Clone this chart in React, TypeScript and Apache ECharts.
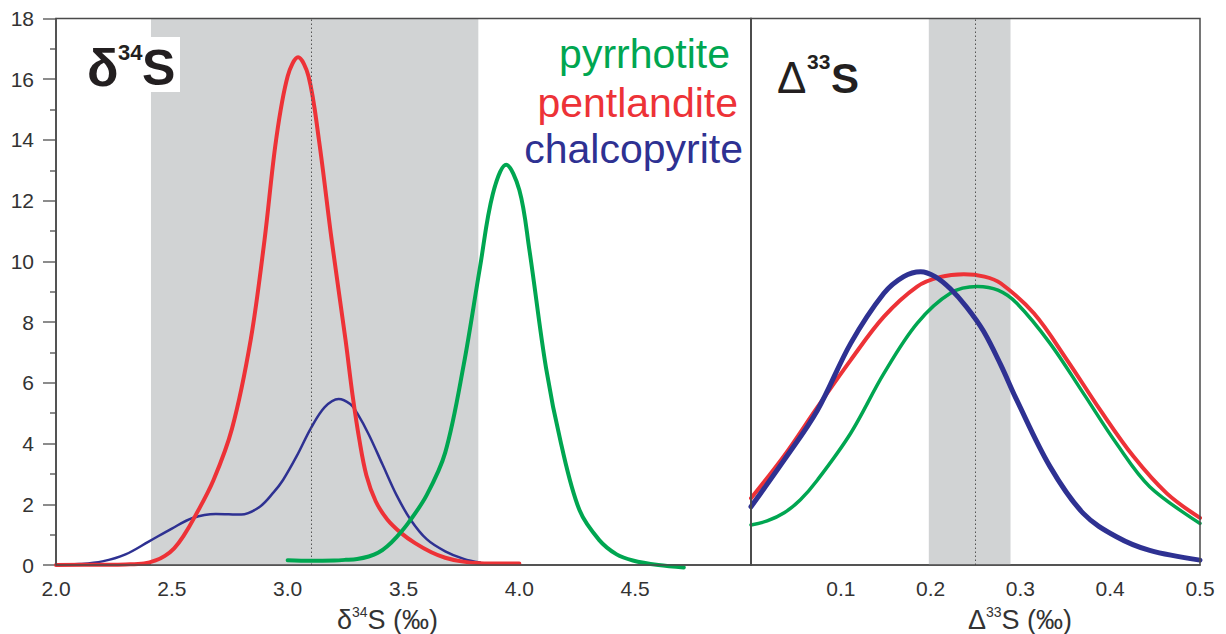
import React, { useEffect, useRef } from 'react';
import * as echarts from 'echarts';

const FONT = '"Liberation Sans", Arial, Helvetica, sans-serif';
const RED = '#ed3237';
const GREEN = '#00a651';
const BLUE = '#2e3192';
const BAND = '#d1d3d4';
const AXIS = '#4a4a4a';
const TXT = '#333333';

// δ34S panel
const d34Range = [2, 5];
const d34Band = [2.41, 3.823];
const d34Mean = 3.1;
const d34Pentlandite: number[][] = [
  [2.0, 0], [2.2, 0.01], [2.3, 0.02], [2.38, 0.05], [2.43, 0.15], [2.47, 0.3], [2.51, 0.55], [2.55, 0.95],
  [2.6, 1.6], [2.68, 2.8], [2.76, 4.5], [2.84, 7.4], [2.9, 10.7], [2.95, 14.0], [3.0, 16.1],
  [3.045, 16.72], [3.09, 16.1], [3.135, 14.0], [3.19, 10.7], [3.25, 7.4], [3.28, 5.6], [3.31, 4.1],
  [3.34, 2.95], [3.38, 2.1], [3.43, 1.5], [3.49, 1.05], [3.55, 0.72], [3.62, 0.42], [3.68, 0.24],
  [3.75, 0.12], [3.83, 0.06], [3.92, 0.05], [4.0, 0.05],
];
const d34Chalcopyrite: number[][] = [
  [2.0, 0], [2.1, 0.03], [2.2, 0.12], [2.3, 0.35], [2.4, 0.77], [2.5, 1.2], [2.59, 1.55], [2.69, 1.68],
  [2.8, 1.66], [2.88, 1.92], [2.94, 2.4], [2.98, 2.8], [3.04, 3.6], [3.1, 4.5], [3.16, 5.2], [3.22, 5.47],
  [3.27, 5.3], [3.3, 5.0], [3.35, 4.3], [3.41, 3.3], [3.47, 2.3], [3.53, 1.5], [3.6, 0.85], [3.68, 0.45],
  [3.76, 0.2], [3.83, 0.08],
];
const d34Pyrrhotite: number[][] = [
  [3.0, 0.16], [3.1, 0.14], [3.2, 0.15], [3.25, 0.17], [3.3, 0.2], [3.35, 0.28], [3.39, 0.4], [3.43, 0.62],
  [3.47, 0.92], [3.52, 1.38], [3.6, 2.3], [3.68, 3.7], [3.76, 6.6], [3.83, 9.8], [3.885, 12.2],
  [3.943, 13.18], [4.0, 12.35], [4.043, 10.4], [4.115, 6.5], [4.18, 4.0], [4.26, 1.8], [4.345, 0.82],
  [4.42, 0.35], [4.49, 0.15], [4.6, 0.0], [4.71, -0.08],
];

// Δ33S panel
const D33Range = [0, 0.5];
const D33Band = [0.198, 0.289];
const D33Mean = 0.248;
const D33Chalcopyrite: number[][] = [
  [0, 1.92], [0.037, 3.46], [0.074, 5.1], [0.111, 7.3], [0.148, 8.95], [0.17, 9.5], [0.189, 9.66],
  [0.205, 9.5], [0.222, 9.1], [0.24, 8.5], [0.259, 7.7], [0.278, 6.6], [0.296, 5.43], [0.333, 3.24],
  [0.37, 1.7], [0.407, 0.93], [0.444, 0.48], [0.5, 0.16],
];
const D33Pentlandite: number[][] = [
  [0, 2.2], [0.037, 3.6], [0.074, 5.2], [0.111, 6.75], [0.148, 8.18], [0.185, 9.17], [0.21, 9.48],
  [0.237, 9.58], [0.26, 9.5], [0.278, 9.28], [0.315, 8.29], [0.352, 6.75], [0.389, 5.1], [0.426, 3.57],
  [0.463, 2.36], [0.5, 1.55],
];
const D33Pyrrhotite: number[][] = [
  [0, 1.32], [0.018, 1.45], [0.037, 1.72], [0.055, 2.15], [0.074, 2.8], [0.111, 4.34], [0.148, 6.31],
  [0.185, 7.96], [0.222, 8.95], [0.252, 9.17], [0.275, 9.05], [0.296, 8.62], [0.333, 7.3], [0.37, 5.66],
  [0.407, 4.0], [0.444, 2.58], [0.5, 1.37],
];

const yRange = [0, 18];
const legendNames = ['pyrrhotite', 'pentlandite', 'chalcopyrite'];
const legendColors = [GREEN, RED, BLUE];

function curve(name: string, data: number[][], color: string, width: number, axis: number, z: number) {
  return {
    name,
    type: 'line',
    xAxisIndex: axis,
    yAxisIndex: axis,
    data,
    smooth: 0.35,
    showSymbol: false,
    symbol: 'none',
    clip: false,
    z,
    lineStyle: { color, width, cap: 'round', join: 'round' },
  };
}

function bandSeries(axis: number, band: number[], mean: number) {
  return {
    type: 'line',
    xAxisIndex: axis,
    yAxisIndex: axis,
    data: [],
    z: 1,
    silent: true,
    markArea: {
      silent: true,
      itemStyle: { color: BAND },
      data: [[{ xAxis: band[0] }, { xAxis: band[1] }]],
    },
    markLine: {
      silent: true,
      symbol: ['none', 'none'],
      label: { show: false },
      lineStyle: { color: '#555', width: 1, type: [1.5, 2.5] },
      data: [{ xAxis: mean }],
    },
  };
}

export default function App() {
  const ref = useRef<HTMLDivElement>(null);
  useEffect(() => {
    if (!ref.current) return;
    const chart = echarts.init(ref.current, undefined, { renderer: 'svg' });
    const gridCommon = {
      top: 18.5,
      height: 546.5,
      show: true,
      z: 10,
      containLabel: false,
      outerBoundsMode: 'none',
      borderColor: AXIS,
      borderWidth: 1.5,
      backgroundColor: 'transparent',
    };
    const axisLabel = { color: TXT, fontSize: 21, fontFamily: FONT };
    const nameRich = {
      a: { fontSize: 27, fontFamily: FONT, color: TXT, lineHeight: 30 },
      b: { fontSize: 14, fontFamily: FONT, color: TXT, lineHeight: 18, verticalAlign: 'top' },
    };
    chart.setOption({
      animation: false,
      backgroundColor: '#ffffff',
      grid: [
        { ...gridCommon, left: 56, width: 695 },
        { ...gridCommon, left: 751, width: 449 },
      ],
      xAxis: [
        {
          type: 'value',
          gridIndex: 0,
          min: d34Range[0],
          max: d34Range[1],
          interval: 0.5,
          axisLine: { show: true, lineStyle: { color: AXIS, width: 1.5 } },
          axisTick: { show: false },
          splitLine: { show: false },
          axisLabel: { ...axisLabel, margin: 13, showMaxLabel: false, formatter: (v: number) => v.toFixed(1) },
          name: '{a|δ}{b|34}{a|S (‰)}',
          nameLocation: 'middle',
          nameGap: 40,
          nameTextStyle: { padding: [0, 32, 0, 0], rich: nameRich },
        },
        {
          type: 'value',
          gridIndex: 1,
          min: D33Range[0],
          max: D33Range[1],
          interval: 0.1,
          axisLine: { show: true, lineStyle: { color: AXIS, width: 1.5 } },
          axisTick: { show: false },
          splitLine: { show: false },
          axisLabel: { ...axisLabel, margin: 13, showMinLabel: false, formatter: (v: number) => v.toFixed(1) },
          name: '{a|Δ}{b|33}{a|S (‰)}',
          nameLocation: 'middle',
          nameGap: 40,
          nameTextStyle: { padding: [0, 0, 0, 89], rich: nameRich },
        },
      ],
      yAxis: [
        {
          type: 'value',
          gridIndex: 0,
          min: yRange[0],
          max: yRange[1],
          interval: 2,
          axisLine: { show: true, lineStyle: { color: AXIS, width: 1.5 } },
          axisTick: { show: true, inside: false, length: 13, lineStyle: { color: '#666', width: 1.5 } },
          minorTick: { show: true, splitNumber: 2, length: 6, lineStyle: { color: '#666', width: 1.5 } },
          splitLine: { show: false },
          axisLabel: { color: TXT, fontSize: 21, fontFamily: FONT, margin: 22 },
        },
        {
          type: 'value',
          gridIndex: 1,
          min: yRange[0],
          max: yRange[1],
          interval: 2,
          axisLine: { show: true, lineStyle: { color: AXIS, width: 1.5 } },
          axisTick: { show: false },
          splitLine: { show: false },
          axisLabel: { show: false },
        },
      ],
      series: [
        bandSeries(0, d34Band, d34Mean),
        bandSeries(1, D33Band, D33Mean),
        curve('chalcopyrite', d34Chalcopyrite, BLUE, 2.5, 0, 3),
        curve('pentlandite', d34Pentlandite, RED, 4, 0, 4),
        curve('pyrrhotite', d34Pyrrhotite, GREEN, 4, 0, 5),
        curve('pyrrhotite', D33Pyrrhotite, GREEN, 3.5, 1, 3),
        curve('pentlandite', D33Pentlandite, RED, 4, 1, 4),
        curve('chalcopyrite', D33Chalcopyrite, BLUE, 5, 1, 5),
      ],
      graphic: [
        { type: 'rect', z: 100, shape: { x: 80, y: 37, width: 100, height: 55 }, style: { fill: '#ffffff' } },
        { type: 'text', z: 101, x: 87, y: 68, style: { text: 'δ', font: `bold 52px ${FONT}`, fill: '#231f20', verticalAlign: 'middle', align: 'left' } },
        { type: 'text', z: 101, x: 118, y: 52, style: { text: '34', font: `bold 22px ${FONT}`, fill: '#231f20', verticalAlign: 'middle', align: 'left' } },
        { type: 'text', z: 101, x: 142, y: 68, style: { text: 'S', font: `bold 50px ${FONT}`, fill: '#231f20', verticalAlign: 'middle', align: 'left' } },
        { type: 'text', z: 101, x: 777, y: 77, style: { text: 'Δ', font: `44px ${FONT}`, fill: '#231f20', verticalAlign: 'middle', align: 'left' } },
        { type: 'text', z: 101, x: 807, y: 61, style: { text: '33', font: `bold 21px ${FONT}`, fill: '#231f20', verticalAlign: 'middle', align: 'left' } },
        { type: 'text', z: 101, x: 831, y: 78, style: { text: 'S', font: `bold 42px ${FONT}`, fill: '#231f20', verticalAlign: 'middle', align: 'left' } },
        ...legendNames.map((n, i) => ({
          type: 'text',
          z: 101,
          x: [730, 738, 743][i],
          y: [54, 103, 149][i],
          style: { text: n, font: `41px ${FONT}`, fill: legendColors[i], verticalAlign: 'middle', align: 'right' },
        })),
      ],
    });
    return () => chart.dispose();
  }, []);
  return <div ref={ref} style={{ position: 'fixed', left: 0, top: 0, width: 1226, height: 634 }} />;
}
